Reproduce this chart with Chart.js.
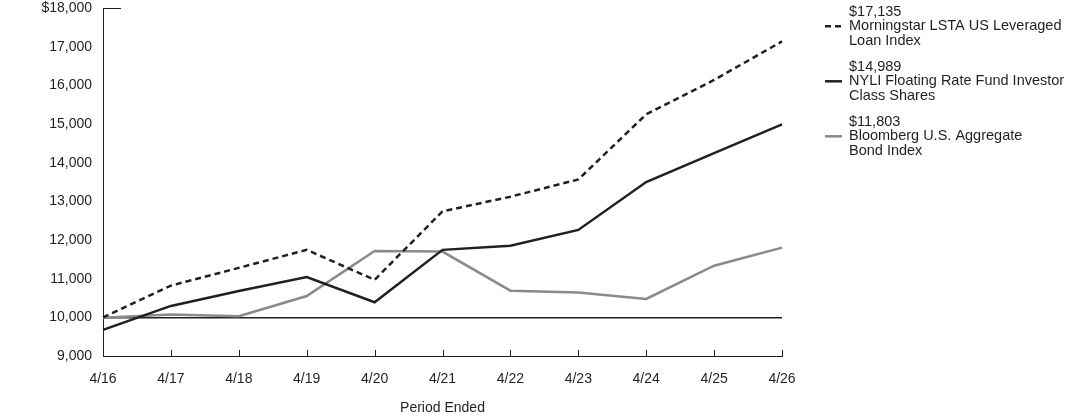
<!DOCTYPE html>
<html>
<head>
<meta charset="utf-8">
<script src="https://cdn.jsdelivr.net/npm/chart.js@4/dist/chart.umd.min.js"></script>
<style>
  html, body { margin: 0; padding: 0; background: #fff; }
  #wrap { width: 1092px; height: 417px; position: relative; }
</style>
</head>
<body>
<div id="wrap"><canvas id="growth"></canvas></div>
<script>
// period labels
var periods = ['4/16', '4/17', '4/18', '4/19', '4/20', '4/21', '4/22', '4/23', '4/24', '4/25', '4/26'];

// values (hypothetical $10,000 investment)
var loanIndex = [10000, 10820, 11280, 11745, 10970, 12740, 13120, 13565, 15250, 16140, 17135];
var fundShares = [9675, 10295, 10680, 11040, 10390, 11745, 11850, 12260, 13500, 14245, 14989];
var bondIndex = [9990, 10075, 10030, 10550, 11716, 11700, 10690, 10640, 10475, 11335, 11803];

var seriesNames = [
    ['$17,135', 'Morningstar LSTA US Leveraged', 'Loan Index'],
    ['$14,989', 'NYLI Floating Rate Fund Investor', 'Class Shares'],
    ['$11,803', 'Bloomberg U.S. Aggregate', 'Bond Index']
];

var yTicks = { min: 9000, max: 18000, step: 1000 };

var dark = '#231f20';
var grey = '#8a8a8a';
var fontFam = '"Liberation Sans", Arial, sans-serif';

// axis ticks drawn inward, the top cap, and the legend on the right
var extras = {
    id: 'extras',
    afterDraw: function(chart) {
        var ctx = chart.ctx;
        var xs = chart.scales.x;
        var ys = chart.scales.y;
        var area = chart.chartArea;
        ctx.save();
        ctx.strokeStyle = dark;
        ctx.lineWidth = 1;
        // inward ticks on the x axis
        for (var i = 0; i < periods.length; i++) {
            var px = Math.round(xs.getPixelForValue(i)) + 0.5;
            ctx.beginPath();
            ctx.moveTo(px, area.bottom);
            ctx.lineTo(px, area.bottom - 6);
            ctx.stroke();
        }
        // cap at top of y axis
        var top = Math.round(ys.getPixelForValue(yTicks.max)) + 0.5;
        ctx.beginPath();
        ctx.moveTo(area.left, top);
        ctx.lineTo(area.left + 18, top);
        ctx.stroke();

        // legend
        var styles = [
            { color: dark, dash: [6, 4], width: 2.5 },
            { color: dark, dash: [], width: 2.5 },
            { color: grey, dash: [], width: 2.5 }
        ];
        var lx = 849, ly = 12, lh = 14.3, gap = 55;
        ctx.font = '14.5px ' + fontFam;
        ctx.fillStyle = dark;
        ctx.textBaseline = 'middle';
        ctx.textAlign = 'left';
        for (var k = 0; k < seriesNames.length; k++) {
            var y0 = ly + k * gap;
            for (var j = 0; j < seriesNames[k].length; j++) {
                ctx.fillText(seriesNames[k][j], lx, y0 + j * lh);
            }
            ctx.beginPath();
            ctx.strokeStyle = styles[k].color;
            ctx.lineWidth = styles[k].width;
            ctx.setLineDash(styles[k].dash);
            ctx.moveTo(825, y0 + lh);
            ctx.lineTo(842, y0 + lh);
            ctx.stroke();
            ctx.setLineDash([]);
        }
        ctx.restore();
    }
};

var config = {
    type: 'line',
    data: {
        labels: periods,
        datasets: [{
            label: 'Morningstar LSTA US Leveraged Loan Index',
            data: loanIndex,
            borderColor: dark,
            borderWidth: 2.5,
            borderDash: [6, 4],
            order: 1
        }, {
            label: 'NYLI Floating Rate Fund Investor Class Shares',
            data: fundShares,
            borderColor: dark,
            borderWidth: 2.5,
            order: 2
        }, {
            label: 'Bloomberg U.S. Aggregate Bond Index',
            data: bondIndex,
            borderColor: grey,
            borderWidth: 2.5,
            order: 3
        }]
    },
    options: {
        responsive: true,
        maintainAspectRatio: false,
        animation: false,
        layout: { padding: { top: 8, right: 310, left: 0, bottom: 0 } },
        elements: {
            point: { radius: 0 },
            line: { tension: 0, fill: false, borderCapStyle: 'butt' }
        },
        plugins: {
            legend: { display: false },
            tooltip: { enabled: false }
        },
        scales: {
            x: {
                offset: false,
                grid: { display: false, drawTicks: false },
                border: { display: true, color: dark, width: 1 },
                ticks: {
                    color: dark,
                    font: { family: fontFam, size: 14 },
                    padding: 15,
                    maxRotation: 0
                },
                title: {
                    display: true,
                    text: 'Period Ended',
                    color: dark,
                    font: { family: fontFam, size: 14 },
                    padding: { top: 12, bottom: 0 }
                },
                afterFit: function(scale) {
                    scale.height = 61;
                    scale.paddingLeft = 0;
                    scale.paddingRight = 0;
                }
            },
            y: {
                min: yTicks.min,
                max: yTicks.max,
                grid: {
                    drawTicks: false,
                    color: function(c) {
                        return c.tick && c.tick.value === 10000 ? dark : 'rgba(0,0,0,0)';
                    },
                    lineWidth: 1.5
                },
                border: { display: true, color: dark, width: 1 },
                ticks: {
                    stepSize: yTicks.step,
                    color: dark,
                    font: { family: fontFam, size: 14 },
                    padding: 11,
                    callback: function(v) {
                        var s = v.toLocaleString('en-US');
                        return v === yTicks.max ? '$' + s : s;
                    }
                },
                afterFit: function(scale) {
                    scale.width = 103;
                    scale.paddingTop = 0;
                    scale.paddingBottom = 0;
                }
            }
        }
    },
    plugins: [extras]
};

new Chart(document.getElementById('growth').getContext('2d'), config);
</script>
</body>
</html>
